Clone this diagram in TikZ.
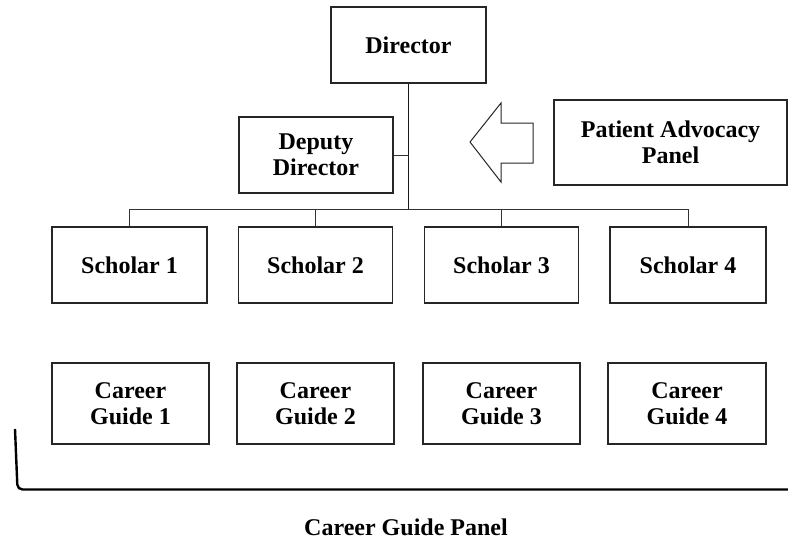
\documentclass[tikz,border=0pt]{standalone}
\usepackage{fontspec}
\setmainfont{Liberation Serif}
\begin{document}
\begin{tikzpicture}[x=1pt,y=-1pt,
  box/.style={draw=black!85, line width=1.2pt, fill=white, inner sep=0pt, align=center,
    font=\fontsize{24}{25.5}\selectfont\bfseries, text=black},
  conn/.style={draw=black!80, line width=1pt},
  mainconn/.style={draw=black!90, line width=1.6pt},
  bracket/.style={draw=black, line width=2.4pt, rounded corners=5pt},
  lbl/.style={font=\fontsize{24}{25.5}\selectfont\bfseries, text=black, inner sep=0pt}]
\useasboundingbox (0,0) rectangle (788,542);
\fill[white] (0,0) rectangle (788,542);

% top level
\node[box, minimum width=155pt, minimum height=76pt] (dir) at (408.5,45) {Director};
\node[box, minimum width=154pt, minimum height=76pt] (dep) at (316,155) {Deputy\\Director};
\node[box, minimum width=233pt, minimum height=85pt] (pap) at (670.5,142.5) {Patient Advocacy\\Panel};

% hollow arrow
\draw[line width=1pt, draw=black!85, fill=white, line join=miter]
  (470,142) -- (501,103) -- (501,123) -- (533,123) -- (533,163) -- (501,163) -- (501,182) -- cycle;

% scholars
\node[box, minimum width=155pt, minimum height=76pt] (s1) at (129.5,265) {Scholar 1};
\node[box, minimum width=154pt, minimum height=76pt] (s2) at (315.5,265) {Scholar 2};
\node[box, minimum width=154pt, minimum height=76pt] (s3) at (501.5,265) {Scholar 3};
\node[box, minimum width=156pt, minimum height=76pt] (s4) at (688,265) {Scholar 4};

% career guides
\node[box, minimum width=157pt, minimum height=81pt] (g1) at (130.5,403.5) {Career\\Guide 1};
\node[box, minimum width=157pt, minimum height=81pt] (g2) at (315.5,403.5) {Career\\Guide 2};
\node[box, minimum width=157pt, minimum height=81pt] (g3) at (501.5,403.5) {Career\\Guide 3};
\node[box, minimum width=158pt, minimum height=81pt] (g4) at (687,403.5) {Career\\Guide 4};

% connectors
\coordinate (bus) at (408.5,209);
\draw[mainconn] (dir.south) -- (bus);
\draw[conn] (dep.east) -- (dep.east -| dir.south);
\draw[conn] (s1.north |- bus) -- (s4.north |- bus);
\draw[conn] (s1.north |- bus) -- (s1.north);
\draw[conn] (s2.north |- bus) -- (s2.north);
\draw[conn] (s3.north |- bus) -- (s3.north);
\draw[conn] (s4.north |- bus) -- (s4.north);

% career guide panel bracket
\coordinate (bt) at (15,429);
\coordinate (bc) at (17.5,489.5);
\coordinate (be) at (788,489.5);
\draw[bracket] (bt) -- (bc) -- (be);
\node[lbl] (cgp) at (406,527) {Career Guide Panel};
\end{tikzpicture}
\end{document}
